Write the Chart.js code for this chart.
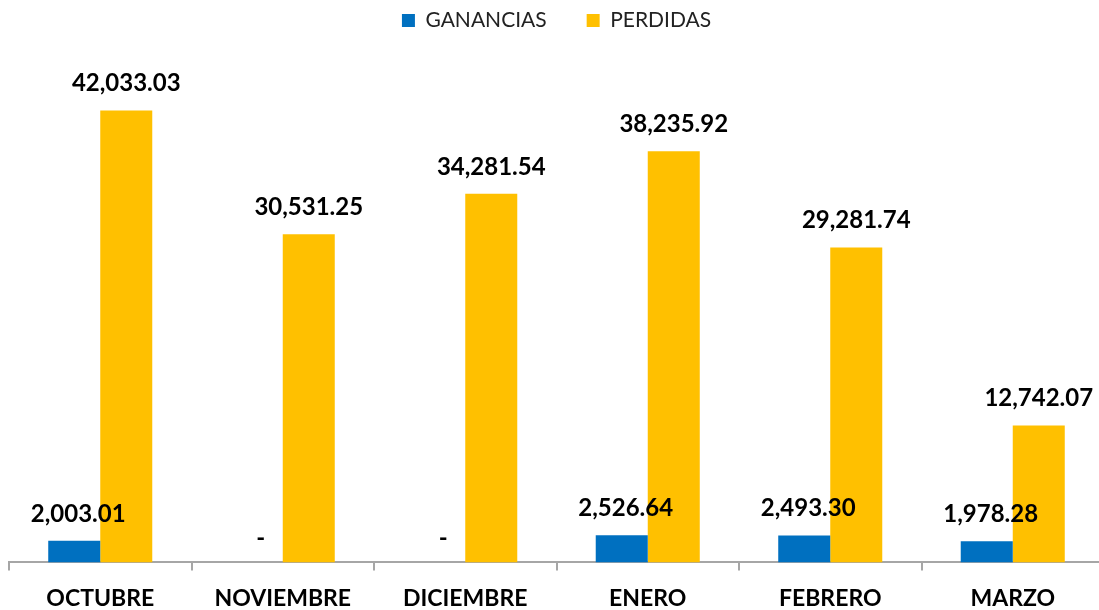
<!DOCTYPE html>
<html>
<head>
<meta charset="utf-8">
<script src="https://cdn.jsdelivr.net/npm/chart.js@4/dist/chart.umd.min.js"></script>
<style>
  html, body { margin: 0; padding: 0; background: #fff; overflow: hidden; }
  #wrap { position: relative; width: 1104px; height: 610px; }
</style>
</head>
<body>
<div id="wrap"><canvas id="c"></canvas></div>
<script>
const categories = ['OCTUBRE', 'NOVIEMBRE', 'DICIEMBRE', 'ENERO', 'FEBRERO', 'MARZO'];
const ganancias = [2003.01, 0, 0, 2526.64, 2493.30, 1978.28];
const perdidas = [42033.03, 30531.25, 34281.54, 38235.92, 29281.74, 12742.07];
const seriesNames = ['GANANCIAS', 'PERDIDAS'];

const FONT = 'Lato, "Open Sans", "Liberation Sans", sans-serif';
const fmt = v => v === 0 ? '-' : v.toLocaleString('en-US', { minimumFractionDigits: 2, maximumFractionDigits: 2 });

const labelPlugin = {
  id: 'valueLabels',
  afterDatasetsDraw(chart) {
    const ctx = chart.ctx;
    ctx.save();
    ctx.font = 'bold 24px ' + FONT;
    ctx.fillStyle = '#000';
    ctx.textAlign = 'center';
    ctx.textBaseline = 'middle';
    chart.data.datasets.forEach((ds, i) => {
      const meta = chart.getDatasetMeta(i);
      meta.data.forEach((el, j) => {
        const v = ds.data[j];
        const off = v === 0 ? 24 : 27;
        const dx = i === 0 ? 4 : 0;
        ctx.fillText(fmt(v), el.x + dx, el.y - off);
      });
    });
    ctx.restore();
  }
};

new Chart(document.getElementById('c'), {
  type: 'bar',
  data: {
    labels: categories,
    datasets: [
      { label: seriesNames[0], data: ganancias, backgroundColor: '#0070C0', categoryPercentage: 0.57, barPercentage: 1 },
      { label: seriesNames[1], data: perdidas, backgroundColor: '#FFC000', categoryPercentage: 0.57, barPercentage: 1 }
    ]
  },
  options: {
    responsive: true,
    maintainAspectRatio: false,
    animation: false,
    layout: { padding: { left: 9, right: 0, top: -30, bottom: -16 } },
    plugins: {
      legend: {
        position: 'top',
        labels: {
          boxWidth: 13, boxHeight: 13, padding: 40,
          color: '#222',
          font: { family: FONT, size: 21 }
        }
      },
      tooltip: { enabled: false }
    },
    scales: {
      x: {
        grid: { display: true, drawOnChartArea: false, drawTicks: true, tickLength: 8, color: '#a6a6a6', lineWidth: 2 },
        border: { display: true, color: '#a6a6a6', width: 2 },
        ticks: { color: '#000', padding: 14, font: { family: FONT, size: 23, weight: 'bold' } }
      },
      y: {
        display: false,
        min: 0,
        max: 48500
      }
    }
  },
  plugins: [labelPlugin]
});
</script>
</body>
</html>
